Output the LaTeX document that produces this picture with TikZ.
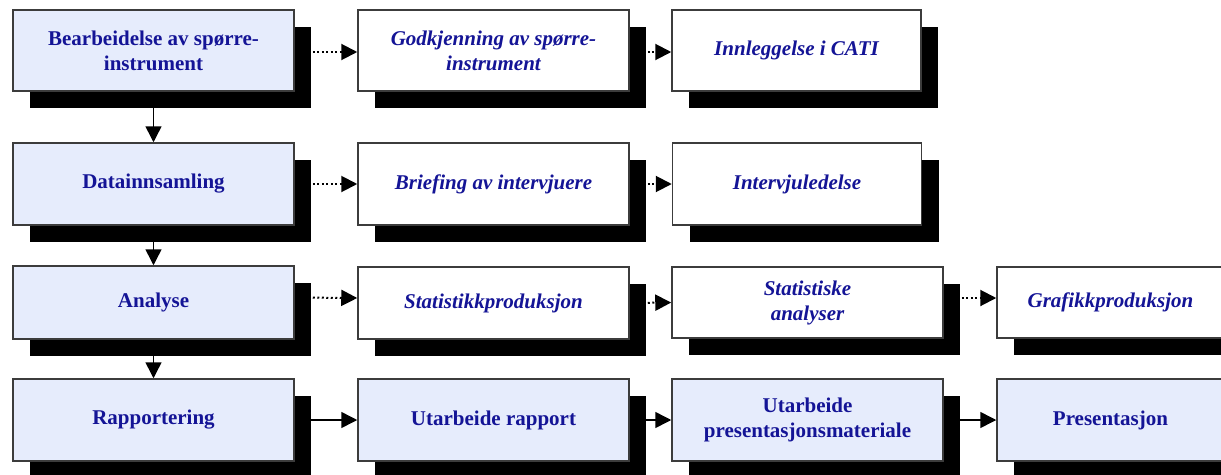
\documentclass[tikz,border=0pt]{standalone}
\usepackage{fontspec}
\setmainfont{Liberation Serif}
\usetikzlibrary{arrows.meta,shadows,backgrounds}
\definecolor{txtblue}{RGB}{20,20,150}
\definecolor{lightfill}{RGB}{230,236,252}
\definecolor{boxline}{RGB}{60,60,60}
\tikzset{
  box/.style={draw=boxline, line width=1.5pt, inner sep=0pt, align=center,
    text=txtblue, font=\fontsize{21}{25}\selectfont\bfseries,
    drop shadow={shadow xshift=17pt, shadow yshift=-17pt, fill=black, opacity=1}},
  mainbox/.style={box, fill=lightfill},
  subbox/.style={box, fill=white, font=\fontsize{21}{25}\selectfont\bfseries\itshape},
  w1/.style={minimum width=281pt},
  w2/.style={minimum width=271pt},
  w3/.style={minimum width=249pt},
  w4/.style={minimum width=227pt},
  tip/.style={-{Triangle[length=16pt 0,width=16pt 0]}},
  solidarrow/.style={tip, line width=1.5pt},
  dotarrow/.style={tip, line width=2pt, dash pattern=on 2pt off 2.5pt}
}
\begin{document}
\begin{tikzpicture}[x=1pt,y=-1pt]
\useasboundingbox (0,0) rectangle (1221,474);
% Row 1
\node[mainbox,w1,minimum height=81pt] (b11) at (153.5,50.5) {Bearbeidelse av spørre-\\instrument};
\node[subbox,w2,minimum height=81pt] (b12) at (493.5,50.5) {Godkjenning av spørre-\\instrument};
\node[subbox,w3,minimum height=81pt] (b13) at (796.5,50.5) {Innleggelse i CATI};
% Row 2
\node[mainbox,w1,minimum height=82pt] (b21) at (153.5,184) {Datainnsamling};
\node[subbox,w2,minimum height=82pt] (b22) at (493.5,184) {Briefing av intervjuere};
\node[subbox,w3,minimum height=82pt] (b23) at (797,184) {Intervjuledelse};
% Row 3
\node[mainbox,w1,minimum height=73pt] (b31) at (153.5,302.5) {Analyse};
\node[subbox,w2,minimum height=72pt] (b32) at (493.5,303) {Statistikkproduksjon};
\node[subbox,w2,minimum height=71pt] (b33) at (807.5,302.5) {Statistiske\\analyser};
\node[subbox,w4,minimum height=71pt] (b34) at (1110.5,302.5) {Grafikkproduksjon};
% Row 4
\node[mainbox,w1,minimum height=82pt] (b41) at (153.5,420) {Rapportering};
\node[mainbox,w2,minimum height=82pt] (b42) at (493.5,420) {Utarbeide rapport};
\node[mainbox,w2,minimum height=82pt] (b43) at (807.5,420) {Utarbeide\\presentasjonsmateriale};
\node[mainbox,w4,minimum height=82pt] (b44) at (1110.5,420) {Presentasjon};
\begin{scope}[on background layer]
% vertical
\draw[solidarrow] (b11.south) -- (b21.north);
\draw[solidarrow] (b21.south) -- (b31.north);
\draw[solidarrow] (b31.south) -- (b41.north);
% row 1
\draw[dotarrow] ([yshift=-1.5pt]b11.east) -- ([yshift=-1.5pt]b12.west);
\draw[dotarrow] ([yshift=-1.5pt]b12.east) -- ([yshift=-1.5pt]b13.west);
% row 2
\draw[dotarrow] (b21.east) -- (b22.west);
\draw[dotarrow] (b22.east) -- (b23.west);
% row 3
\draw[dotarrow] ([yshift=5pt]b31.east) -- ([yshift=5pt]b32.west);
\draw[dotarrow] (b32.east) -- (b33.west);
\draw[dotarrow] ([yshift=4.5pt]b33.east) -- ([yshift=4.5pt]b34.west);
% row 4
\draw[solidarrow] (b41.east) -- (b42.west);
\draw[solidarrow] (b42.east) -- (b43.west);
\draw[solidarrow] (b43.east) -- (b44.west);
\end{scope}
\end{tikzpicture}
\end{document}
